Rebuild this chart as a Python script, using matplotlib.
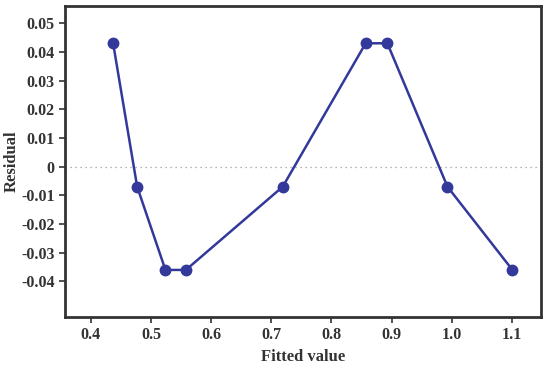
import numpy as np
import matplotlib
matplotlib.use('Agg')
from matplotlib import pyplot as plt

fitted = [0.437, 0.477, 0.524, 0.558, 0.719, 0.857, 0.893, 0.993, 1.101]
residual = [0.043, -0.007, -0.036, -0.036, -0.007, 0.043, 0.043, -0.007, -0.036]
xticks = [0.4, 0.5, 0.6, 0.7, 0.8, 0.9, 1.0, 1.1]
yticks = [-0.04, -0.03, -0.02, -0.01, 0, 0.01, 0.02, 0.03, 0.04, 0.05]

plt.rcParams['font.family'] = ['Liberation Serif', 'DejaVu Serif']
plt.rcParams['font.weight'] = 'bold'

fig = plt.figure(figsize=(5.5, 3.66), dpi=100)
ax = fig.add_axes([65 / 550, 1 - 316.7 / 366, (540.7 - 65) / 550, (316.7 - 5.7) / 366])

ax.axhline(0, color='#999999', lw=0.9, ls=(0, (1, 3)))
ax.plot(fitted, residual, color='#33399a', lw=1.8, marker='o', ms=7.5)

ax.set_xlim(0.357, 1.148)
ax.set_ylim(-0.0523, 0.0561)
ax.set_xticks(xticks)
ax.set_xticklabels(['%.1f' % t for t in xticks])
ax.set_yticks(yticks)
ax.set_yticklabels(['0' if t == 0 else '%.2f' % t for t in yticks])
ax.tick_params(labelsize=11.5, colors='#333333', length=4, width=1.2)
for s in ax.spines.values():
    s.set_linewidth(2)
    s.set_color('#333333')

ax.set_xlabel('Fitted value', fontsize=12, fontweight='bold', color='#333333', labelpad=4)
ax.set_ylabel('Residual', fontsize=12, fontweight='bold', color='#333333')
ax.yaxis.set_label_coords(-0.095, 0.5)

plt.savefig('out.png', dpi=100)
